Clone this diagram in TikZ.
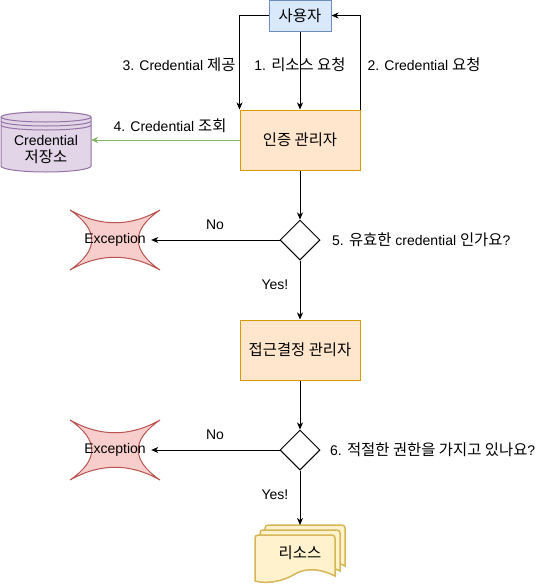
\documentclass[tikz,border=0pt]{standalone}
\usepackage{fontspec}
\setmainfont{Liberation Sans}
\newfontfamily\kr{Noto Sans CJK KR}[Scale=1.1]
\usetikzlibrary{arrows.meta,shapes.geometric}
\definecolor{userfill}{HTML}{DAE8FC}
\definecolor{userline}{HTML}{6C8EBF}
\definecolor{mgrfill}{HTML}{FFE6CC}
\definecolor{mgrline}{HTML}{D79B00}
\definecolor{dbfill}{HTML}{E1D5E7}
\definecolor{dbline}{HTML}{9673A6}
\definecolor{exfill}{HTML}{F8CECC}
\definecolor{exline}{HTML}{B85450}
\definecolor{docfill}{HTML}{FFF2CC}
\definecolor{docline}{HTML}{D6B656}
\definecolor{grn}{HTML}{82B366}
\newcommand\exshape[1]{%
  \begin{scope}[shift={#1}]
    \draw[exstyle] (-45,-30) .. controls (-15,-13) and (15,-13) .. (45,-30)
      .. controls (16,-10) and (16,10) .. (45,30)
      .. controls (15,13) and (-15,13) .. (-45,30)
      .. controls (-16,10) and (-16,-10) .. (-45,-30) -- cycle;
  \end{scope}}
\newcommand\docpage[1]{%
  \begin{scope}[shift={#1}]
    \draw[docstyle] (255,581) [rounded corners=3pt] -- (255,535) -- (335,535) [sharp corners] -- (335,576)
      .. controls (315,566) and (302,570) .. (295,574)
      .. controls (282,582) and (266,584) .. (255,581) -- cycle;
  \end{scope}}
\begin{document}
\begin{tikzpicture}[x=1pt,y=-1pt,
  font=\fontsize{14}{16}\selectfont,
  arr/.style={-{Stealth[length=7pt,width=6pt,inset=2pt]}, line width=1pt, black},
  garr/.style={-{Stealth[length=7pt,width=6pt,inset=2pt]}, line width=1pt, grn},
  lbl/.style={inner sep=0pt},
  userbox/.style={draw=userline, fill=userfill, line width=1pt, minimum width=62pt, minimum height=31pt, inner sep=0pt},
  mgrbox/.style={draw=mgrline, fill=mgrfill, line width=1pt, minimum width=120pt, minimum height=60pt, inner sep=0pt},
  decision/.style={draw, fill=white, shape=diamond, line width=1pt, minimum width=40pt, minimum height=40pt, inner sep=0pt},
  exstyle/.style={draw=exline, fill=exfill, line width=1pt},
  docstyle/.style={draw=docline, fill=docfill, line width=1.5pt},
  dbstyle/.style={draw=dbline, fill=dbfill, line width=1pt},
  ghost/.style={inner sep=0pt}]
\useasboundingbox (0,0) rectangle (541,587);

% user
\node[userbox] (user) at (300,15.5) {\kr 사용자};
% auth manager
\node[mgrbox] (auth) at (300,140) {\kr 인증 관리자};
% credential store (cylinder)
\fill[dbfill] (1,117) -- (1,166) arc(180:0:45 and 6) -- (91,117) arc(0:-180:45 and 6) -- cycle;
\draw[dbstyle, fill=none] (1,117) -- (1,166) arc(180:0:45 and 6) -- (91,117);
\draw[dbstyle] (46,117) ellipse (45 and 5);
\draw[dbstyle, fill=none] (1,121) arc(180:0:45 and 5);
\draw[dbstyle, fill=none] (1,125) arc(180:0:45 and 5);
\node[ghost, minimum width=91pt, minimum height=60pt, align=center] (store) at (46,150) {Credential\\[1pt]{\kr 저장소}};

% decisions
\node[decision] (d1) at (300,240) {};
\node[mgrbox] (acc) at (300,350) {\kr 접근결정 관리자};
\node[decision] (d2) at (300,450) {};

% exceptions
\exshape{(115,240)}
\node[ghost, minimum width=72pt] (ex1) at (115,240) {Exception};
\exshape{(115,450)}
\node[ghost, minimum width=72pt] (ex2) at (115,450) {Exception};

% resource documents
\docpage{(10,-10)}
\docpage{(5,-5)}
\docpage{(0,0)}
\node[ghost] (res) at (300,553) {\kr 리소스};
\coordinate (docTop) at (300,525);

% connectors
\draw[arr] (user) -- (auth);
\draw[arr] (user.west) -| (auth.north west);
\draw[arr] (auth.north east) |- (user.east);
\draw[garr] (auth.west) -- (91,140);
\draw[arr] (auth) -- (d1);
\draw[arr] (d1) -- (ex1);
\draw[arr] (d1) -- (acc);
\draw[arr] (acc) -- (d2);
\draw[arr] (d2) -- (ex2);
\draw[arr] (d2.south) -- (docTop);

% labels
\node[lbl] (l3) at (179,65) {3. Credential {\kr 제공}};
\node[lbl] (l1) at (300,65) {1. {\kr 리소스 요청}};
\node[lbl] (l2) at (424,65) {2. Credential {\kr 요청}};
\node[lbl] (l4) at (170,126) {4. Credential {\kr 조회}};
\node[lbl] (no1) at (215,225) {No};
\node[lbl, anchor=west] (q5) at (332,240) {5. {\kr 유효한} credential {\kr 인가요}?};
\node[lbl] (y1) at (275,285) {Yes!};
\node[lbl] (no2) at (215,435) {No};
\node[lbl, anchor=west] (q6) at (330,450) {6. {\kr 적절한 권한을 가지고 있나요}?};
\node[lbl] (y2) at (275,495) {Yes!};
\end{tikzpicture}
\end{document}
